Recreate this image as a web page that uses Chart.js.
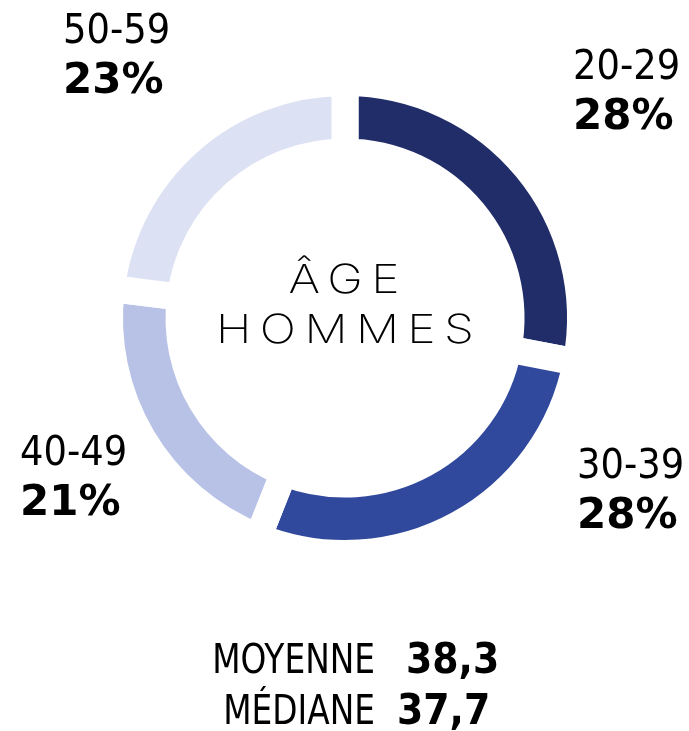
<!DOCTYPE html>
<html>
<head>
<meta charset="utf-8">
<script src="https://cdn.jsdelivr.net/npm/chart.js@4"></script>
<style>
  html, body { margin: 0; padding: 0; background: #fff; }
  #wrap { width: 689px; height: 731px; }
</style>
</head>
<body>
<div id="wrap"><canvas id="myChart" width="689" height="731"></canvas></div>
<script>
// data
const ageGroups = ['20-29', '30-39', '40-49', '50-59'];
const shares = [28, 28, 21, 23];
const sliceColors = ['#212d69', '#31499d', '#b8c1e6', '#dce1f3'];
const centerLines = ['ÂGE', 'HOMMES'];
const statNames = ['MOYENNE', 'MÉDIANE'];
const statValues = ['38,3', '37,7'];

const COND = '"DejaVu Sans Condensed", "DejaVu Sans", sans-serif';
const WIDE = '"DejaVu Sans", sans-serif';

// where each label block sits (left edge, first baseline), relative to the doughnut centre
const labelOffsets = [
  { dx: 228, dy: -239 },
  { dx: 232, dy: 160 },
  { dx: -325, dy: 147 },
  { dx: -282, dy: -275 }
];

// text stretched or squeezed sideways, to get closer to the original faces
function scaledText(ctx, text, x, y, sx, shift) {
  ctx.save();
  ctx.translate(x, y);
  ctx.scale(sx, 1);
  ctx.fillText(text, shift || 0, 0);
  ctx.restore();
}

const textPlugin = {
  id: 'texts',
  afterDraw(chart) {
    const ctx = chart.ctx;
    const arc = chart.getDatasetMeta(0).data[0];
    const cx = arc.x, cy = arc.y;

    ctx.save();
    ctx.fillStyle = '#000';
    ctx.textBaseline = 'alphabetic';
    ctx.textAlign = 'left';

    // slice labels
    ageGroups.forEach((g, i) => {
      const o = labelOffsets[i];
      ctx.font = '41px ' + COND;
      ctx.fillText(g, cx + o.dx, cy + o.dy);
      ctx.font = 'bold 42px ' + WIDE;
      ctx.fillText(shares[i] + '%', cx + o.dx, cy + o.dy + 50);
    });

    // centre title, thin and wide
    ctx.textAlign = 'center';
    ctx.font = '200 40px Inter, sans-serif';
    ctx.letterSpacing = '7px';
    scaledText(ctx, centerLines[0], cx - 1, cy - 25, 1.2, 3.5);
    scaledText(ctx, centerLines[1], cx, cy + 25, 1.2, 3.5);
    ctx.letterSpacing = '0px';

    // bottom stats
    statNames.forEach((n, i) => {
      const y = cy + 355 + i * 51;
      ctx.textAlign = 'right';
      ctx.font = '41px ' + COND;
      scaledText(ctx, n, cx + 30, y, 0.89);
      ctx.textAlign = 'left';
      ctx.font = 'bold 42px ' + COND;
      ctx.fillText(statValues[i], cx + (i === 0 ? 61 : 52), y);
    });
    ctx.restore();
  }
};

new Chart(document.getElementById('myChart'), {
  type: 'doughnut',
  data: {
    labels: ageGroups,
    datasets: [{
      data: shares,
      backgroundColor: sliceColors,
      borderColor: '#ffffff',
      borderWidth: 27,
      hoverOffset: 0
    }]
  },
  options: {
    responsive: false,
    animation: false,
    cutout: 166,
    layout: { padding: { left: 96, right: 95, top: 69, bottom: 164 } },
    plugins: {
      legend: { display: false },
      tooltip: { enabled: false }
    }
  },
  plugins: [textPlugin]
});
</script>
</body>
</html>
